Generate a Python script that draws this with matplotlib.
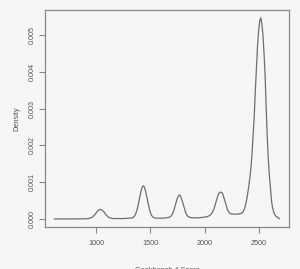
import matplotlib
matplotlib.use('Agg')
from matplotlib import pyplot as plt

# density curve (score, density), one line per bump
score = [616, 800, 900, 930, 940, 950, 960, 970, 980, 990, 1000, 1010, 1020,
         1030, 1040, 1050, 1060, 1070, 1080, 1090, 1100, 1110, 1120, 1130,
         1140, 1160, 1250, 1300,
         1335, 1345, 1355, 1365, 1375, 1385, 1395, 1405, 1415, 1425, 1435,
         1445, 1455, 1465, 1475, 1485, 1495, 1505, 1515, 1525, 1535, 1560, 1620,
         1667, 1677, 1687, 1697, 1707, 1717, 1727, 1737, 1747, 1757, 1767,
         1777, 1787, 1797, 1807, 1817, 1827, 1837, 1847, 1857, 1867, 1890,
         1950, 2000,
         2030, 2050, 2060, 2070, 2080, 2090, 2100, 2110, 2120, 2130, 2140,
         2150, 2160, 2170, 2180, 2190, 2200, 2210, 2220, 2230, 2240, 2250,
         2265, 2280, 2300, 2320,
         2337, 2347, 2357, 2367, 2377, 2387, 2397, 2407, 2417, 2427, 2437,
         2447, 2457, 2467, 2477, 2487, 2497, 2507, 2517, 2527, 2537, 2547,
         2557, 2567, 2577, 2587, 2597, 2607, 2617, 2627, 2640, 2652, 2664,
         2676, 2688]
density = [0.0, 0.0, 0.000005, 0.00001, 0.00002, 0.00003, 0.00004, 0.00006,
           0.00009, 0.00012, 0.00016, 0.0002, 0.00023, 0.00025, 0.00026,
           0.00025, 0.00023, 0.0002, 0.00016, 0.00012, 0.00009, 0.00006,
           0.00004, 0.00003, 0.00002, 0.00001, 0.00001, 0.00002,
           0.00003, 0.00005, 0.00008, 0.00014, 0.00022, 0.00034, 0.00048,
           0.00063, 0.00077, 0.000865, 0.0009, 0.000865, 0.00077, 0.00063,
           0.00048, 0.00034, 0.00022, 0.00014, 0.00008, 0.00005, 0.00003,
           0.00002, 0.00002,
           0.00004, 0.00005, 0.00007, 0.0001, 0.00016, 0.00024, 0.00034,
           0.00045, 0.00055, 0.00062, 0.00065, 0.00062, 0.00055, 0.00045,
           0.00034, 0.00024, 0.00016, 0.0001, 0.00007, 0.00005, 0.00004,
           0.00003, 0.00003, 0.00005,
           0.00007, 0.0001, 0.00013, 0.00017, 0.00023, 0.00031, 0.00041,
           0.00052, 0.00062, 0.00069, 0.00072, 0.00073, 0.00071, 0.00065,
           0.00055, 0.00045, 0.00035, 0.00026, 0.0002, 0.00016, 0.00014,
           0.000135, 0.00013, 0.00013, 0.00013, 0.00014,
           0.00015, 0.00017, 0.00021, 0.00028, 0.00038, 0.00052, 0.0007,
           0.0009, 0.00113, 0.0014, 0.0018, 0.0023, 0.0028, 0.0035, 0.0041,
           0.0047, 0.0051, 0.00537, 0.00547, 0.0053, 0.005, 0.0045, 0.0039,
           0.003, 0.0022, 0.0016, 0.00115, 0.0008, 0.00046, 0.00028, 0.00015,
           0.00009, 0.00006, 0.00003, 0.00001]

x_ticks = [1000, 1500, 2000, 2500]
y_ticks = [0.000, 0.001, 0.002, 0.003, 0.004, 0.005]

plt.rcParams['font.family'] = ['Liberation Sans', 'DejaVu Sans']

bg = '#f6f6f6'
fig = plt.figure(figsize=(3.0, 2.69), dpi=100, facecolor=bg)
ax = fig.add_axes([0.15, 0.156, 0.813, 0.807], facecolor=bg)

ax.plot(score, density, color='#6e6e6e', lw=0.9)

ax.set_xlim(530, 2776)
ax.set_ylim(-0.00022, 0.00568)

for s in ax.spines.values():
    s.set_color('#888888')
    s.set_linewidth(0.9)

ax.set_xticks(x_ticks)
ax.set_xticklabels([str(t) for t in x_ticks])
ax.set_yticks(y_ticks)
ax.set_yticklabels(['%.3f' % t for t in y_ticks], rotation=90, va='center')
ax.tick_params(axis='both', colors='#888888', labelcolor='#555555', length=4,
               width=0.8, labelsize=5.2)
ax.tick_params(axis='x', pad=5)
ax.tick_params(axis='y', pad=3)

ax.set_ylabel('Density', fontsize=5.3, color='#555555', labelpad=6)
ax.set_xlabel('Geekbench 4 Score', fontsize=5.3, color='#555555', labelpad=15)

fig.savefig('out.png', dpi=100, facecolor=bg)
